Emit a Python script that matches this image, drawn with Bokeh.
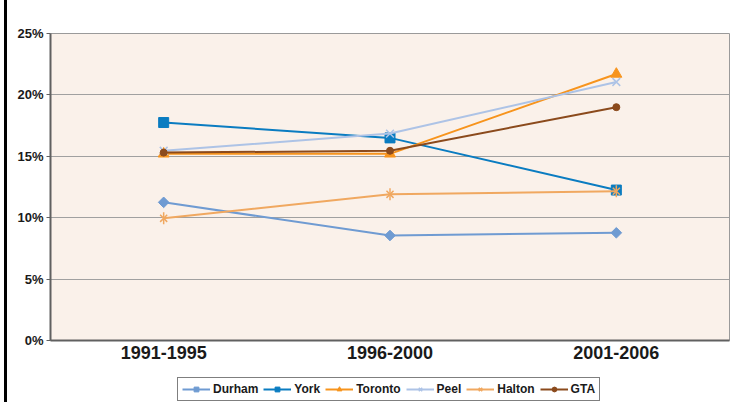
import math
from bokeh.plotting import figure
from bokeh.layouts import column
from bokeh.models import (FactorRange, Range1d, PrintfTickFormatter, Legend, LegendItem,
                          ColumnDataSource, FixedTicker)
from bokeh.embed import file_html
from bokeh.resources import INLINE

periods = ["1991-1995", "1996-2000", "2001-2006"]
durham = [11.25, 8.55, 8.77]
york = [17.75, 16.5, 12.25]
toronto = [15.2, 15.2, 21.7]
peel = [15.45, 16.85, 21.05]
halton = [9.95, 11.9, 12.15]
gta = [15.3, 15.45, 19.0]
y_ticks = [0, 5, 10, 15, 20, 25]

# name, values, colour, list of (marker, size, angle)
series = [
    ("Durham", durham, "#6f9bd2", [("square", 7.5, math.pi / 4)]),
    ("York", york, "#0a7cc1", [("square", 10, 0)]),
    ("Toronto", toronto, "#f7941d", [("triangle", 11, 0)]),
    ("Peel", peel, "#adc3e6", [("x", 11, 0)]),
    ("Halton", halton, "#f0a860", [("x", 10, 0), ("dash", 12, math.pi / 2)]),
    ("GTA", gta, "#8b4a1c", [("circle", 7, 0)]),
]

W = 723
p = figure(width=W, height=372, x_range=FactorRange(*periods, range_padding=0),
           y_range=Range1d(0, 25), output_backend="svg", toolbar_location=None,
           min_border_left=43, min_border_right=1, min_border_top=33, min_border_bottom=32)
p.background_fill_color = "#faf1ea"
p.border_fill_color = "white"
p.outline_line_color = "#9a9a9a"
p.outline_line_width = 1

p.xgrid.grid_line_color = None
p.ygrid.grid_line_color = "#a0a0a0"
p.ygrid.grid_line_width = 1
p.yaxis.ticker = FixedTicker(ticks=y_ticks)
p.yaxis.formatter = PrintfTickFormatter(format="%d%%")

for ax in (p.xaxis[0], p.yaxis[0]):
    ax.axis_line_color = "#606060"
    ax.axis_line_width = 2
    ax.major_label_text_font = "Liberation Sans"
    ax.major_label_text_font_style = "bold"
    ax.major_label_text_color = "#1a1a1a"
    ax.minor_tick_line_color = None

p.yaxis.major_label_text_font_size = "13px"
p.yaxis.major_tick_out = 4
p.yaxis.major_tick_in = 0
p.yaxis.major_tick_line_color = "#606060"
p.yaxis.major_label_standoff = 3
p.xaxis.major_label_text_font_size = "18px"
p.xaxis.major_tick_line_color = None
p.xaxis.major_tick_out = 0
p.xaxis.major_tick_in = 0
p.xaxis.major_label_standoff = 5

for name, vals, color, marks in series:
    src = ColumnDataSource(dict(x=periods, y=vals))
    p.line("x", "y", source=src, line_color=color, line_width=2)
    for marker, size, angle in marks:
        p.scatter("x", "y", source=src, marker=marker, size=size, angle=angle,
                  fill_color=color, line_color=color,
                  line_width=1.5 if marker in ("x", "dash") else 1)

# legend strip
lg = figure(width=W, height=30, output_backend="svg", toolbar_location=None,
            x_axis_location=None, y_axis_location=None, min_border=0,
            x_range=Range1d(0, 1), y_range=Range1d(0, 1))
lg.outline_line_color = None
lg.grid.grid_line_color = None
lg.background_fill_color = "white"
lg.border_fill_color = "white"
items = []
for name, vals, color, marks in series:
    # off-range placeholder point so the legend can draw the glyph
    rs = [lg.line(x=[-5, -4], y=[-5, -4], line_color=color, line_width=2)]
    for marker, size, angle in marks:
        rs.append(lg.scatter(x=[-5], y=[-5], marker=marker, size=size * 0.8, angle=angle,
                             fill_color=color, line_color=color,
                             line_width=1.5 if marker in ("x", "dash") else 1))
    items.append(LegendItem(label=name, renderers=rs))

legend = Legend(items=items, orientation="horizontal", location=(127, 1),
                label_text_font="Liberation Sans", label_text_font_style="bold",
                label_text_font_size="12px", label_text_color="#1a1a1a",
                glyph_width=28, glyph_height=12, label_height=12, label_standoff=3,
                spacing=5, padding=4, margin=0,
                border_line_color="black", border_line_width=1,
                background_fill_color="white", background_fill_alpha=1)
lg.add_layout(legend, "center")

layout = column(p, lg, spacing=0,
                styles={"border-left": "3px solid black", "margin-left": "4px"})

open("out.html", "w").write(file_html(layout, INLINE))
